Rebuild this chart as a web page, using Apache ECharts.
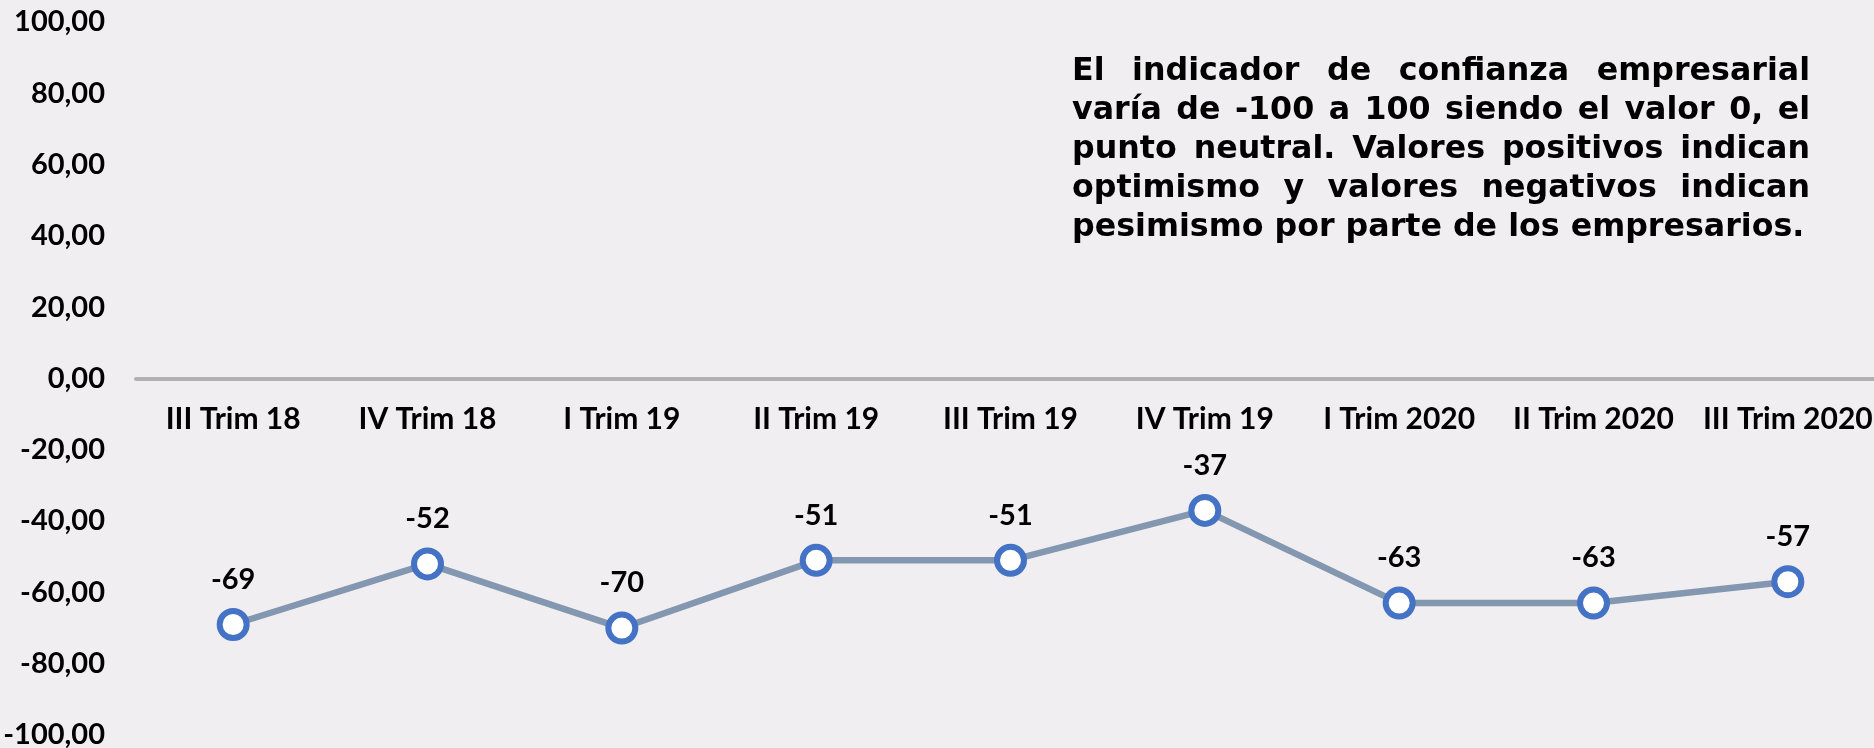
<!DOCTYPE html>
<html>
<head>
<meta charset="utf-8">
<style>
  html, body { margin: 0; padding: 0; background: #f0eef0; }
  #chart { width: 1874px; height: 748px; }
</style>
<script src="https://cdn.jsdelivr.net/npm/echarts@6/dist/echarts.min.js"></script>
</head>
<body>
<div id="chart"></div>
<script>
// Quarterly business confidence indicator
const categories = ['III Trim 18', 'IV Trim 18', 'I Trim 19', 'II Trim 19', 'III Trim 19',
                    'IV Trim 19', 'I Trim 2020', 'II Trim 2020', 'III Trim 2020'];
const confidenceIndex = [-69, -52, -70, -51, -51, -37, -63, -63, -57];
const yMin = -100;
const yMax = 100;
const yStep = 20;
const noteLines = [
  'El indicador de confianza empresarial',
  'varía de -100 a 100 siendo el valor 0, el',
  'punto neutral. Valores positivos indican',
  'optimismo y valores negativos indican',
  'pesimismo por parte de los empresarios.'
];

const labelFont = { fontFamily: 'Lato', fontWeight: 'bold', fontSize: 29, color: '#000' };
const GRID = { left: 136, top: 22, width: 1749, height: 713 };

// Justified note block built from individual words
const NOTE_FONT = 'bold 31.7px "DejaVu Sans"';
const noteBox = { left: 1072, right: 1810, firstY: 72, lineGap: 39 };
const measureCtx = document.createElement('canvas').getContext('2d');
measureCtx.font = NOTE_FONT;
function noteElements() {
  const els = [];
  const boxW = noteBox.right - noteBox.left;
  noteLines.forEach((line, li) => {
    const y = noteBox.firstY + li * noteBox.lineGap;
    const last = li === noteLines.length - 1;
    if (last) {
      els.push({ type: 'text', style: { text: line, x: noteBox.left, y, font: NOTE_FONT, fill: '#000', verticalAlign: 'middle' } });
      return;
    }
    const words = line.split(' ');
    const widths = words.map(w => measureCtx.measureText(w).width);
    const sum = widths.reduce((a, b) => a + b, 0);
    const gap = (boxW - sum) / (words.length - 1);
    let x = noteBox.left;
    words.forEach((w, i) => {
      els.push({ type: 'text', style: { text: w, x, y, font: NOTE_FONT, fill: '#000', verticalAlign: 'middle' } });
      x += widths[i] + gap;
    });
  });
  return els;
}

// The category axis sits on the zero line
const zeroOffset = -((0 - yMin) / (yMax - yMin)) * GRID.height;

const chart = echarts.init(document.getElementById('chart'), null, { renderer: 'canvas' });
chart.setOption({
  backgroundColor: '#f0eef0',
  animation: false,
  grid: Object.assign({ containLabel: false, outerBoundsMode: 'none' }, GRID),
  xAxis: {
    type: 'category',
    position: 'bottom',
    offset: zeroOffset,
    data: categories,
    axisLine: { onZero: false, lineStyle: { color: '#b3b0b1', width: 4 } },
    axisTick: { show: false },
    axisLabel: Object.assign({ interval: 0, margin: 26 }, labelFont, { fontSize: 30 }),
    splitLine: { show: false }
  },
  yAxis: {
    type: 'value',
    min: yMin,
    max: yMax,
    interval: yStep,
    axisLine: { show: false },
    axisTick: { show: false },
    splitLine: { show: false },
    axisLabel: Object.assign({
      margin: 31,
      formatter: v => v.toFixed(2).replace('.', ',')
    }, labelFont)
  },
  series: [{
    type: 'line',
    data: confidenceIndex,
    symbol: 'circle',
    symbolSize: 27,
    lineStyle: { color: '#8497b0', width: 6.5 },
    itemStyle: { color: '#ffffff', borderColor: '#4472c4', borderWidth: 6 },
    label: Object.assign({ show: true, position: 'top', distance: 14, formatter: '{c}' }, labelFont),
    emphasis: { disabled: true }
  }],
  graphic: noteElements()
});
</script>
</body>
</html>
